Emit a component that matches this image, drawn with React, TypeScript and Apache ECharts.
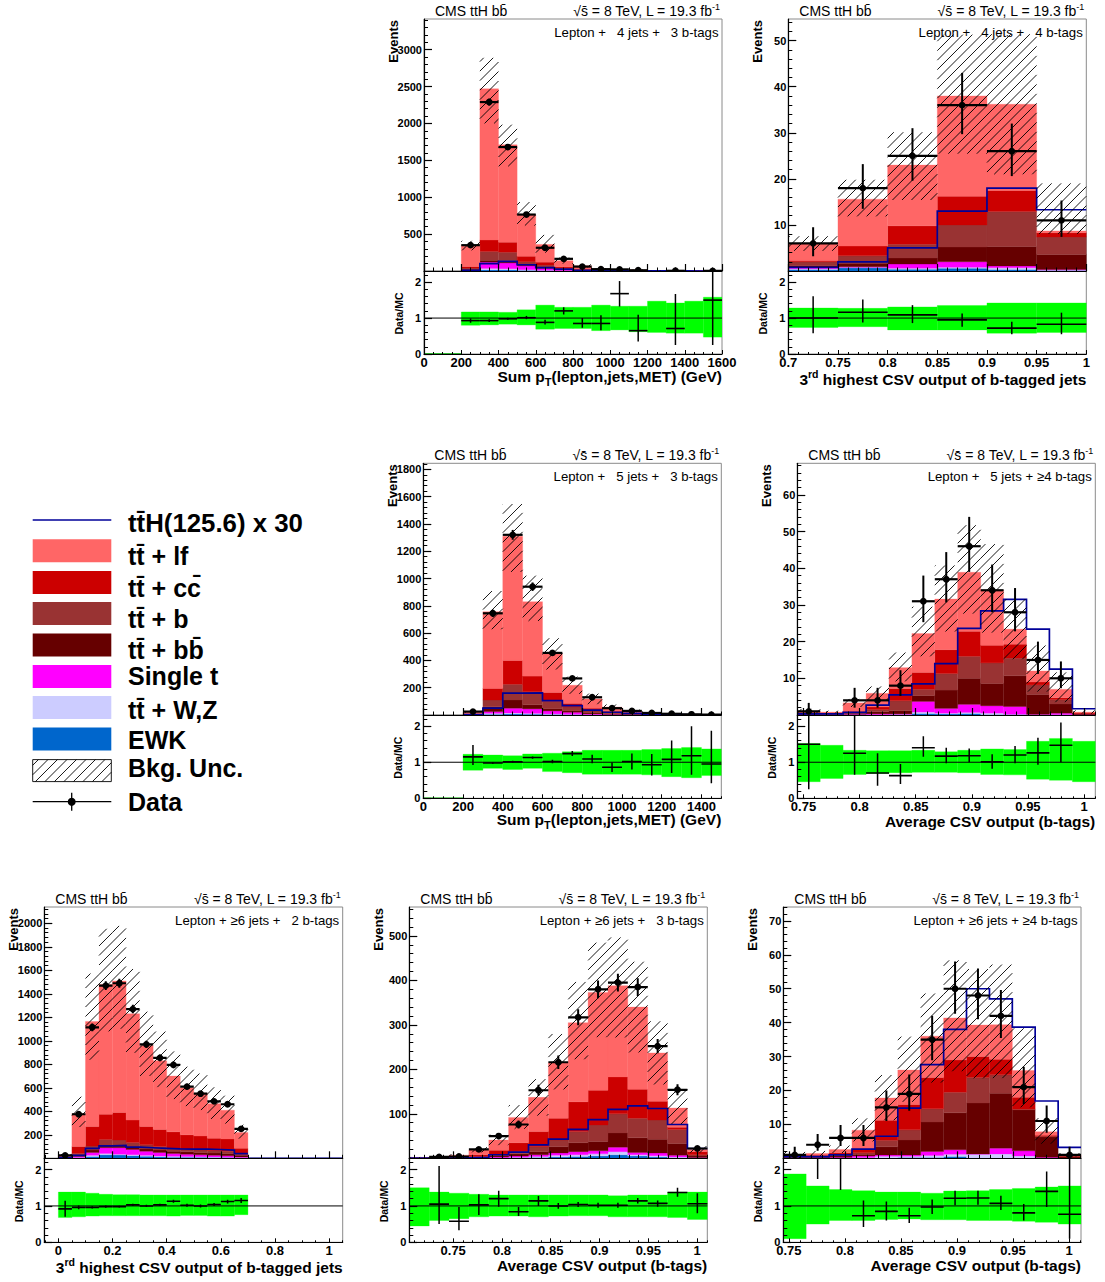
import React, { useEffect, useRef } from "react";
import * as echarts from "echarts";

// ---------- shared tick values ----------
const ratioTicks = [0, 1, 2];
const xTicksPt16 = [0, 200, 400, 600, 800, 1000, 1200, 1400, 1600];
const xTicksPt14 = [0, 200, 400, 600, 800, 1000, 1200, 1400];
const xTicksCsv3 = [0.7, 0.75, 0.8, 0.85, 0.9, 0.95, 1];
const xTicksAvg = [0.75, 0.8, 0.85, 0.9, 0.95, 1];
const xTicksLow = [0, 0.2, 0.4, 0.6, 0.8, 1];

// ---------- panel 1: 4 jets, 3 b-tags ----------
const p1Edges = [200, 300, 400, 500, 600, 700, 800, 900, 1000, 1100, 1200, 1300, 1400, 1500, 1600];
const p1Ewk = [4, 15, 15, 8, 4, 2, 1, 0.5, 0.2, 0.2, 0.1, 0.1, 0, 0];
const p1Ttv = [4, 20, 15, 10, 6, 3, 1, 0.5, 0.3, 0.2, 0.1, 0, 0.1, 0.05];
const p1St = [7, 85, 80, 52, 25, 10, 4, 2, 0.5, 0.6, 0.3, 0.2, 0.1, 0.05];
const p1Bb = [10, 25, 30, 20, 15, 10, 4, 2, 1, 1, 0.5, 0.4, 0.2, 0.1];
const p1B = [15, 120, 115, 35, 30, 10, 5, 3, 1, 2, 1, 0.3, 0.2, 0.2];
const p1Cc = [20, 155, 135, 75, 40, 20, 10, 4, 2, 2, 1, 1, 0.4, 0.2];
const p1Lf = [290, 2050, 1320, 560, 240, 85, 45, 17, 7, 9, 3, 2, 1, 0.7];
const p1Sig = [8, 100, 130, 85, 45, 25, 10, 5, 2, 2, 1, 0.5, 0.3, 0.2];
const p1Data = [350, 2290, 1680, 765, 315, 165, 60, 25, 22, 10, null, 3, null, 2];
const p1DataLo = [331, 2242, 1639, 737, 297, 152, 52, 20, 17, 7, null, 1.5, null, 0.7];
const p1DataHi = [369, 2338, 1721, 793, 333, 178, 68, 30, 27, 13, null, 5.5, null, 4.6];
const p1Ratio = [0.93, 0.93, 0.98, 1.01, 0.88, 1.2, 0.85, 0.85, 1.68, 0.65, null, 0.71, null, 1.5];
const p1RatioLo = [0.87, 0.89, 0.95, 0.97, 0.82, 1.1, 0.73, 0.66, 1.32, 0.35, null, 0.25, null, 0.25];
const p1RatioHi = [0.99, 0.97, 1.01, 1.06, 0.95, 1.3, 1, 1.08, 2.03, 1.09, null, 1.67, null, 2.4];
const p1BandHi = [1.17, 1.17, 1.16, 1.23, 1.36, 1.3, 1.3, 1.36, 1.33, 1.33, 1.47, 1.42, 1.47, 1.58];
const p1BandLo = [0.8, 0.81, 0.83, 0.81, 0.69, 0.71, 0.71, 0.65, 0.67, 0.62, 0.6, 0.58, 0.58, 0.47];

// ---------- panel 2: 4 jets, 4 b-tags ----------
const p2Edges = [0.7, 0.75, 0.8, 0.85, 0.9, 0.95, 1];
const p2Ewk = [0.3, 0.7, 0.4, 0.6, 0.3, 0.1];
const p2Ttv = [0.2, 0.1, 0.2, 0.2, 0.4, 0.1];
const p2St = [0.3, 0.1, 0.9, 1.2, 0.4, 0.1];
const p2Bb = [0.4, 0.8, 1.3, 3.2, 4.2, 3.3];
const p2B = [0.8, 1.6, 3, 4.8, 7.6, 3.8];
const p2Cc = [0.3, 2.1, 4, 6.2, 4.6, 0.9];
const p2Lf = [3.6, 10.2, 13.2, 21.8, 18.7, 0.4];
const p2Sig = [0.8, 2, 5, 13, 18, 13.3];
const p2HatchBase = [5.9, 15.6, 23, 38, 36.2, 13.4];
const p2Data = [6, 18, 25, 36, 26, 11];
const p2DataLo = [3.2, 13.5, 19.6, 29.7, 20.6, 7.4];
const p2DataHi = [9.5, 23.2, 31, 43, 32, 15.3];
const p2Ratio = [1, 1.16, 1.09, 0.95, 0.72, 0.83];
const p2RatioLo = [0.58, 0.88, 0.86, 0.76, 0.55, 0.55];
const p2RatioHi = [1.61, 1.52, 1.36, 1.13, 0.9, 1.15];
const p2BandHi = [1.28, 1.27, 1.31, 1.35, 1.42, 1.42];
const p2BandLo = [0.74, 0.76, 0.67, 0.67, 0.58, 0.6];

// ---------- panel 3: 5 jets, 3 b-tags ----------
const p3Edges = [200, 300, 400, 500, 600, 700, 800, 900, 1000, 1100, 1200, 1300, 1400, 1500];
const p3Ewk = [0.5, 5, 8, 6, 4, 2, 1, 1, 0.5, 0.2, 0.1, 0.1, 0];
const p3Ttv = [0.5, 7, 7, 6, 4, 3, 2, 1, 0.5, 0.3, 0.2, 0.1, 0.1];
const p3St = [1, 13, 35, 33, 22, 15, 5, 3, 2, 1, 0.4, 0.2, 0.2];
const p3Bb = [1, 35, 60, 30, 15, 10, 7, 4, 2, 1.5, 0.8, 0.4, 0.2];
const p3B = [2, 50, 115, 95, 55, 30, 15, 8, 4, 2, 1, 0.5, 0.4];
const p3Cc = [3, 85, 175, 115, 65, 25, 20, 11, 6, 3, 1.5, 0.7, 0.5];
const p3Lf = [14, 562, 910, 545, 285, 133, 68, 30, 15, 8, 4, 2.5, 1.6];
const p3Sig = [3, 50, 160, 162, 105, 68, 35, 20, 12, 6, 3, 1.5, 1];
const p3Data = [25, 745, 1320, 940, 455, 268, 130, 50, 30, 15, 9, 5, 3];
const p3DataLo = [20, 718, 1284, 909, 434, 252, 119, 43, 24.5, 11, 6, 2.8, 1.3];
const p3DataHi = [30, 772, 1356, 971, 476, 284, 141, 57, 35.5, 19, 12, 7.2, 4.7];
const p3Ratio = [1.15, 0.98, 1.01, 1.13, 1.02, 1.24, 1.09, 0.86, 1.02, 0.93, 1.08, 1.18, 0.95];
const p3RatioLo = [0.92, 0.95, 0.98, 1.1, 0.97, 1.17, 0.97, 0.73, 0.8, 0.63, 0.7, 0.65, 0.42];
const p3RatioHi = [1.48, 1.01, 1.04, 1.16, 1.07, 1.31, 1.21, 0.99, 1.24, 1.23, 1.6, 2, 1.87];
const p3BandHi = [1.22, 1.2, 1.18, 1.23, 1.25, 1.29, 1.33, 1.33, 1.33, 1.35, 1.38, 1.41, 1.37];
const p3BandLo = [0.78, 0.83, 0.8, 0.83, 0.74, 0.71, 0.67, 0.67, 0.67, 0.65, 0.6, 0.57, 0.63];

// ---------- panel 4: 5 jets, >=4 b-tags ----------
const p4Edges = [0.7445, 0.7649, 0.7853, 0.8058, 0.8262, 0.8466, 0.867, 0.8874, 0.9079, 0.9283, 0.9487, 0.9691, 0.9896, 1.01];
const p4Ewk = [0, 0, 0, 0, 0.1, 0.4, 0.3, 0.4, 0.1, 0.1, 0, 0, 0];
const p4Ttv = [0.05, 0, 0.1, 0.1, 0.1, 0.4, 0.2, 0.3, 0.4, 0.1, 0.1, 0.1, 0];
const p4St = [0.05, 0.1, 0.1, 0.2, 0.1, 2.9, 1.3, 2.2, 2, 2.1, 0.1, 0.4, 0.1];
const p4Bb = [0.2, 0.1, 0.2, 0.6, 0.9, 1.6, 5, 7.1, 6.1, 8.4, 5.4, 2.5, 0.2];
const p4B = [0.2, 0.1, 0.2, 0.6, 2.7, 1.7, 4.5, 6, 5.6, 4.8, 2.6, 1.2, 0.1];
const p4Cc = [0.2, 0.2, 0.4, 0.7, 3.3, 4.6, 6.5, 6.8, 4.8, 3.8, 0.8, 0.5, 0.2];
const p4Lf = [0.4, 0.3, 2.3, 3.7, 5.7, 10.6, 13.8, 16.1, 15, 4.1, 3, 2.3, 0.2];
const p4Sig = [0.3, 0.3, 0.7, 2.7, 5.5, 8.5, 14, 23.6, 28.4, 31.5, 23.4, 12.5, 1.7];
const p4Data = [1, null, 4, 4, 8, 31, 37, 46, 34, 28, 15, 10, null];
const p4DataLo = [0.2, null, 2, 2, 5.2, 25.3, 30.7, 39, 28, 22.8, 11.2, 7.3, null];
const p4DataHi = [3.3, null, 7.4, 7.4, 12.2, 38, 44.4, 54, 41, 34.6, 20, 14.6, null];
const p4Ratio = [1.5, null, 1.25, 0.7, 0.63, 1.4, 1.17, 1.18, 1.01, 1.2, 1.26, 1.47, null];
const p4RatioLo = [0.25, null, 0.65, 0.35, 0.4, 1.15, 0.97, 1, 0.82, 0.97, 0.93, 1, null];
const p4RatioHi = [2.6, null, 2.4, 1.25, 0.95, 1.72, 1.4, 1.38, 1.22, 1.45, 1.68, 2.1, null];
const p4BandHi = [1.52, 1.47, 1.33, 1.32, 1.32, 1.33, 1.29, 1.33, 1.37, 1.35, 1.58, 1.66, 1.58];
const p4BandLo = [0.46, 0.55, 0.66, 0.69, 0.71, 0.72, 0.72, 0.71, 0.66, 0.65, 0.53, 0.5, 0.46];

// ---------- panel 5: >=6 jets, 2 b-tags ----------
const p5Edges = [0, 0.05, 0.1, 0.15, 0.2, 0.25, 0.3, 0.35, 0.4, 0.45, 0.5, 0.55, 0.6, 0.65, 0.7];
const p5Ewk = [1, 3, 15, 30, 28, 22, 18, 14, 10, 10, 8, 7, 6, 3];
const p5Ttv = [0.5, 4, 10, 10, 7, 8, 7, 6, 7, 5, 5, 5, 4, 3];
const p5St = [1.5, 8, 25, 50, 55, 45, 35, 30, 23, 20, 17, 13, 12, 6];
const p5Bb = [2, 10, 20, 20, 15, 20, 20, 20, 20, 20, 20, 20, 18, 13];
const p5B = [3, 15, 35, 50, 50, 40, 35, 30, 25, 20, 20, 20, 20, 10];
const p5Cc = [4, 60, 165, 215, 235, 190, 155, 145, 140, 125, 120, 105, 105, 50];
const p5Lf = [15, 280, 895, 1105, 1120, 905, 690, 585, 475, 400, 365, 295, 245, 135];
const p5Sig = [5, 25, 85, 105, 110, 95, 90, 85, 80, 78, 78, 75, 70, 40];
const p5Data = [25, 375, 1115, 1470, 1490, 1270, 970, 855, 795, 610, 550, 485, 460, 250];
const p5DataLo = [20, 356, 1082, 1432, 1451, 1234, 939, 826, 767, 585, 527, 463, 439, 234];
const p5DataHi = [30, 394, 1148, 1508, 1529, 1306, 1001, 884, 823, 635, 573, 507, 481, 266];
const p5Ratio = [0.92, 0.96, 0.96, 0.98, 0.98, 1.03, 1, 1.03, 1.13, 1.02, 1, 1.04, 1.12, 1.15];
const p5RatioLo = [0.7, 0.91, 0.93, 0.95, 0.955, 1, 0.97, 1, 1.09, 0.98, 0.96, 1, 1.07, 1.08];
const p5RatioHi = [1.14, 1.01, 0.99, 1.01, 1.005, 1.06, 1.03, 1.06, 1.17, 1.06, 1.04, 1.08, 1.17, 1.22];
const p5BandHi = [1.38, 1.38, 1.35, 1.32, 1.31, 1.31, 1.3, 1.3, 1.3, 1.3, 1.3, 1.3, 1.3, 1.3];
const p5BandLo = [0.68, 0.7, 0.72, 0.73, 0.73, 0.73, 0.73, 0.73, 0.72, 0.74, 0.74, 0.72, 0.72, 0.76];

// ---------- panel 6: >=6 jets, 3 b-tags ----------
const p6Edges = [0.705, 0.7254, 0.7457, 0.7661, 0.7865, 0.8068, 0.8272, 0.8476, 0.8679, 0.8883, 0.9087, 0.929, 0.9494, 0.9698, 0.9901, 1.0105];
const p6Ewk = [0.05, 0.1, 0.1, 0.2, 0.5, 1, 2, 3, 4, 5, 8, 5, 3, 1, 0.5];
const p6Ttv = [0.05, 0.1, 0.2, 0.3, 1, 1.5, 2, 4, 4, 5, 7, 3, 3, 2, 0.5];
const p6St = [0.1, 0.1, 0.2, 0.5, 1.5, 2.5, 4, 5, 7, 7, 10, 5, 6, 4, 1];
const p6Bb = [0.2, 0.3, 0.5, 1, 2, 5, 7, 14, 20, 21, 32, 33, 31, 26, 3];
const p6B = [0.2, 0.3, 1, 2, 3, 5, 11, 15, 25, 37, 43, 44, 43, 32, 3];
const p6Cc = [0.4, 0.6, 1, 4, 10, 20, 34, 49, 67, 78, 83, 65, 42, 5, 7];
const p6Lf = [1, 1.5, 4, 11, 23, 57, 77, 125, 178, 220, 205, 185, 109, 43, 5];
const p6Sig = [0.5, 0.5, 1, 2, 8, 14, 30, 43, 65, 87, 110, 118, 112, 76, 22];
const p6Data = [null, 3, 4, 20, 50, 76, 153, 216, 317, 380, 395, 385, 252, 154, 22];
const p6DataLo = [null, 1.5, 2, 15.5, 43, 67, 140.5, 201, 299, 360, 375, 365, 236, 141.5, 17];
const p6DataHi = [null, 5, 6, 24.5, 57, 85, 165.5, 231, 335, 400, 415, 405, 268, 166.5, 27];
const p6Ratio = [null, 1.05, 0.58, 1.03, 1.2, 0.84, 1.14, 1, 1.04, 1.02, 1.02, 1.14, 1.07, 1.37, 1.06];
const p6RatioLo = [null, 0.5, 0.33, 0.75, 0.98, 0.72, 1, 0.92, 0.97, 0.95, 0.95, 1.07, 0.98, 1.25, 0.8];
const p6RatioHi = [null, 2.1, 0.97, 1.32, 1.42, 0.97, 1.27, 1.08, 1.11, 1.09, 1.09, 1.22, 1.15, 1.5, 1.35];
const p6BandHi = [1.5, 1.38, 1.35, 1.32, 1.3, 1.3, 1.3, 1.3, 1.3, 1.3, 1.28, 1.3, 1.3, 1.38, 1.38];
const p6BandLo = [0.45, 0.6, 0.65, 0.7, 0.72, 0.72, 0.7, 0.72, 0.73, 0.73, 0.7, 0.7, 0.7, 0.68, 0.63];

// ---------- panel 7: >=6 jets, >=4 b-tags ----------
const p7Edges = [0.745, 0.7654, 0.7859, 0.8063, 0.8268, 0.8472, 0.8676, 0.8881, 0.9085, 0.929, 0.9494, 0.9698, 0.9903, 1.0107];
const p7Ewk = [0, 0, 0, 0, 0.1, 0.2, 0.2, 0.5, 0.1, 0.1, 0, 0, 0];
const p7Ttv = [0, 0.1, 0.1, 0.2, 0.5, 0.4, 0.6, 0.7, 1.1, 1.2, 0.7, 0.1, 0];
const p7St = [0.1, 0.1, 0.2, 0.5, 0.4, 0.4, 1.2, 1.3, 0.1, 1.7, 1.5, 0.2, 0.1];
const p7Bb = [0.2, 0.2, 0.4, 0.3, 2.4, 4.4, 8.7, 10.9, 15, 16.2, 12.1, 6, 0.3];
const p7B = [0.2, 0.2, 0.4, 0.6, 1.9, 3, 3.9, 6.1, 7.5, 5.4, 0.2, 0.2, 0.2];
const p7Cc = [0.2, 0.3, 0.5, 1.3, 5.9, 7.5, 9.2, 9.5, 6.2, 4.6, 3.5, 0.3, 0.2];
const p7Lf = [0.3, 0.5, 1, 5.4, 6.6, 10.1, 12.2, 12.4, 9.3, 10.2, 7.9, 1, 0.2];
const p7Sig = [0.5, 0.5, 1, 2.7, 6.5, 14.8, 27.6, 38, 50, 47, 38.7, 16.9, 3.2];
const p7Data = [1, 4, 6, 6, 15, 19, 35, 50, 48, 42, 21, 11, 1];
const p7DataLo = [0.2, 2.2, 3.6, 3.6, 11, 14, 28.9, 42.6, 41, 35.5, 16, 7.5, 0.2];
const p7DataHi = [3.4, 7.2, 9.8, 9.8, 20, 24.7, 42, 58, 56, 49.6, 27, 15.6, 3.4];
const p7Ratio = [null, 2.9, 2.31, 0.73, 0.85, 0.73, 0.97, 1.21, 1.22, 1.07, 0.81, 1.4, 0.77];
const p7RatioLo = [null, 1.74, 1.44, 0.42, 0.6, 0.53, 0.78, 1.02, 1.03, 0.89, 0.6, 0.97, 0.1];
const p7RatioHi = [null, 4, 3.2, 1.15, 1.12, 0.95, 1.18, 1.42, 1.42, 1.28, 1.05, 1.95, 2.7];
const p7BandHi = [1.88, 1.55, 1.45, 1.42, 1.38, 1.38, 1.35, 1.41, 1.42, 1.45, 1.48, 1.52, 1.55];
const p7BandLo = [0.1, 0.5, 0.6, 0.6, 0.63, 0.64, 0.62, 0.62, 0.6, 0.6, 0.58, 0.55, 0.5];

// ---------- styles ----------
const FONT = "Liberation Sans";
const C = { lf: "#ff6666", cc: "#cc0000", b: "#993333", bb: "#660000", st: "#ff00ff", ttv: "#ccccff", ewk: "#0066cc", sig: "#000099", band: "#00ff00" };
const HATCH_STEP = 9.5;

const xTitleSum = "{n|Sum p}{sub|T}{n|(lepton,jets,MET) (GeV)}";
const xTitleCsv = "{n|3}{sup|rd}{n| highest CSV output of b-tagged jets}";
const xTitleAvg = "{n|Average CSV output (b-tags)}";

const steps = (from: number, to: number, step: number) => {
  const out: number[] = [];
  const n = Math.round((to - from) / step);
  for (let i = 0; i <= n; i++) out.push(Math.round((from + i * step) * 1e6) / 1e6);
  return out;
};

const panels: any[] = [
  {
    box: { left: 424, right: 722, top: 19, mid: 271, bottom: 354 }, xMin: 0, xMax: 1600, yMax: 3416,
    xTicks: xTicksPt16, xMinor: steps(0, 1600, 50), yTicks: [500, 1000, 1500, 2000, 2500, 3000], yMinor: steps(100, 3400, 100),
    edges: p1Edges, ewk: p1Ewk, ttv: p1Ttv, st: p1St, bb: p1Bb, b: p1B, cc: p1Cc, lf: p1Lf, sig: p1Sig,
    data: p1Data, dataLo: p1DataLo, dataHi: p1DataHi, ratio: p1Ratio, ratioLo: p1RatioLo, ratioHi: p1RatioHi, bandHi: p1BandHi, bandLo: p1BandLo,
    label: "Lepton +   4 jets +   3 b-tags", xTitle: xTitleSum, xTitleDy: 22, zeroSpan: [0, 200],
  },
  {
    box: { left: 788.3, right: 1086.3, top: 19, mid: 271, bottom: 354 }, xMin: 0.7, xMax: 1, yMax: 54.7,
    xTicks: xTicksCsv3, xMinor: steps(0.7, 1, 0.01), yTicks: [10, 20, 30, 40, 50], yMinor: steps(2, 54, 2),
    edges: p2Edges, ewk: p2Ewk, ttv: p2Ttv, st: p2St, bb: p2Bb, b: p2B, cc: p2Cc, lf: p2Lf, sig: p2Sig, hatchBase: p2HatchBase,
    data: p2Data, dataLo: p2DataLo, dataHi: p2DataHi, ratio: p2Ratio, ratioLo: p2RatioLo, ratioHi: p2RatioHi, bandHi: p2BandHi, bandLo: p2BandLo,
    label: "Lepton +   4 jets +   4 b-tags", xTitle: xTitleCsv, xTitleDy: 25,
  },
  {
    box: { left: 423.3, right: 721.3, top: 463.3, mid: 715, bottom: 798.3 }, xMin: 0, xMax: 1500, yMax: 1844,
    xTicks: xTicksPt14, xMinor: steps(0, 1500, 50), yTicks: [200, 400, 600, 800, 1000, 1200, 1400, 1600, 1800], yMinor: steps(40, 1840, 40),
    edges: p3Edges, ewk: p3Ewk, ttv: p3Ttv, st: p3St, bb: p3Bb, b: p3B, cc: p3Cc, lf: p3Lf, sig: p3Sig,
    data: p3Data, dataLo: p3DataLo, dataHi: p3DataHi, ratio: p3Ratio, ratioLo: p3RatioLo, ratioHi: p3RatioHi, bandHi: p3BandHi, bandLo: p3BandLo,
    label: "Lepton +   5 jets +   3 b-tags", xTitle: xTitleSum, xTitleDy: 21, zeroSpan: [0, 200],
  },
  {
    box: { left: 797.3, right: 1095.3, top: 463.3, mid: 715, bottom: 798.3 }, xMin: 0.7445, xMax: 1.01, yMax: 68.6,
    xTicks: xTicksAvg, xMinor: steps(0.75, 1.01, 0.01), yTicks: [10, 20, 30, 40, 50, 60], yMinor: steps(2, 68, 2),
    edges: p4Edges, ewk: p4Ewk, ttv: p4Ttv, st: p4St, bb: p4Bb, b: p4B, cc: p4Cc, lf: p4Lf, sig: p4Sig,
    data: p4Data, dataLo: p4DataLo, dataHi: p4DataHi, ratio: p4Ratio, ratioLo: p4RatioLo, ratioHi: p4RatioHi, bandHi: p4BandHi, bandLo: p4BandLo,
    label: "Lepton +   5 jets + \u22654 b-tags", xTitle: xTitleAvg, xTitleDy: 23,
  },
  {
    box: { left: 44.3, right: 342.7, top: 907, mid: 1158.3, bottom: 1242.3 }, xMin: -0.052, xMax: 1.05, yMax: 2139,
    xTicks: xTicksLow, xMinor: steps(-0.05, 1.05, 0.05), yTicks: [200, 400, 600, 800, 1000, 1200, 1400, 1600, 1800, 2000], yMinor: steps(40, 2120, 40),
    edges: p5Edges, ewk: p5Ewk, ttv: p5Ttv, st: p5St, bb: p5Bb, b: p5B, cc: p5Cc, lf: p5Lf, sig: p5Sig, sigTail: [0.7, 1.05],
    data: p5Data, dataLo: p5DataLo, dataHi: p5DataHi, ratio: p5Ratio, ratioLo: p5RatioLo, ratioHi: p5RatioHi, bandHi: p5BandHi, bandLo: p5BandLo,
    label: "Lepton + \u22656 jets +   2 b-tags", xTitle: xTitleCsv, xTitleDy: 25,
  },
  {
    box: { left: 409.3, right: 707.3, top: 907, mid: 1158.3, bottom: 1242.3 }, xMin: 0.705, xMax: 1.0105, yMax: 565,
    xTicks: xTicksAvg, xMinor: steps(0.71, 1.01, 0.01), yTicks: [100, 200, 300, 400, 500], yMinor: steps(20, 560, 20),
    edges: p6Edges, ewk: p6Ewk, ttv: p6Ttv, st: p6St, bb: p6Bb, b: p6B, cc: p6Cc, lf: p6Lf, sig: p6Sig,
    data: p6Data, dataLo: p6DataLo, dataHi: p6DataHi, ratio: p6Ratio, ratioLo: p6RatioLo, ratioHi: p6RatioHi, bandHi: p6BandHi, bandLo: p6BandLo,
    label: "Lepton + \u22656 jets +   3 b-tags", xTitle: xTitleAvg, xTitleDy: 23,
  },
  {
    box: { left: 783.3, right: 1081, top: 907, mid: 1158.3, bottom: 1242.3 }, xMin: 0.745, xMax: 1.0107, yMax: 74.1,
    xTicks: xTicksAvg, xMinor: steps(0.75, 1.01, 0.01), yTicks: [10, 20, 30, 40, 50, 60, 70], yMinor: steps(2, 74, 2),
    edges: p7Edges, ewk: p7Ewk, ttv: p7Ttv, st: p7St, bb: p7Bb, b: p7B, cc: p7Cc, lf: p7Lf, sig: p7Sig,
    data: p7Data, dataLo: p7DataLo, dataHi: p7DataHi, ratio: p7Ratio, ratioLo: p7RatioLo, ratioHi: p7RatioHi, bandHi: p7BandHi, bandLo: p7BandLo,
    label: "Lepton + \u22656 jets + \u22654 b-tags", xTitle: xTitleAvg, xTitleDy: 23,
  },
];

const legendRows = [
  { key: "lf", text: "tt\u0304 + lf" },
  { key: "cc", text: "tt\u0304 + cc\u0304" },
  { key: "b", text: "tt\u0304 + b" },
  { key: "bb", text: "tt\u0304 + bb\u0304" },
  { key: "st", text: "Single t" },
  { key: "ttv", text: "tt\u0304 + W,Z" },
  { key: "ewk", text: "EWK" },
];

// ---------- drawing helpers ----------
function hatchSegments(x0: number, yTop: number, x1: number, yBot: number) {
  const segs: any[] = [];
  const first = Math.ceil((x0 + yTop) / HATCH_STEP);
  const last = Math.floor((x1 + yBot) / HATCH_STEP);
  for (let k = first; k <= last; k++) {
    const s = k * HATCH_STEP;
    const ax = Math.max(x0, s - yBot);
    const bx = Math.min(x1, s - yTop);
    if (bx > ax) segs.push({ x1: ax, y1: s - ax, x2: bx, y2: s - bx });
  }
  return segs;
}

const rectRender = (color: string) => (_: any, api: any) => {
  const a = api.coord([api.value(0), api.value(2)]);
  const b = api.coord([api.value(1), api.value(3)]);
  return { type: "rect", shape: { x: a[0], y: b[1], width: b[0] - a[0], height: a[1] - b[1] }, style: { fill: color, stroke: color, lineWidth: 0.3 } };
};

const hatchRender = (_: any, api: any) => {
  const a = api.coord([api.value(0), api.value(2)]);
  const b = api.coord([api.value(1), api.value(3)]);
  return {
    type: "group",
    children: hatchSegments(a[0], b[1], b[0], a[1]).map((shape) => ({
      type: "line", shape, style: { stroke: "#000", lineWidth: 0.9, fill: "none" },
    })),
  };
};

const pointsRender = (withMarker: boolean) => (_: any, api: any) => {
  const c = api.coord([api.value(0), api.value(2)]);
  const l = api.coord([api.value(1), api.value(2)]);
  const r = api.coord([api.value(5), api.value(2)]);
  const lo = api.coord([api.value(0), api.value(3)]);
  const hi = api.coord([api.value(0), api.value(4)]);
  const hw = withMarker ? 2.2 : 1.6;
  const vw = withMarker ? 2 : 1.5;
  const children: any[] = [
    { type: "line", shape: { x1: l[0], y1: c[1], x2: r[0], y2: c[1] }, style: { stroke: "#000", lineWidth: hw } },
    { type: "line", shape: { x1: c[0], y1: lo[1], x2: c[0], y2: hi[1] }, style: { stroke: "#000", lineWidth: vw } },
  ];
  if (withMarker) children.push({ type: "circle", shape: { cx: c[0], cy: c[1], r: 3.4 }, style: { fill: "#000" } });
  return { type: "group", children };
};

const plainNumber = (v: number) => String(v);

function buildOption() {
  const grid: any[] = [];
  const xAxis: any[] = [];
  const yAxis: any[] = [];
  const series: any[] = [];
  const graphics: any[] = [];

  const txt = (text: string, x: number, y: number, size: number, weight: string, align: string, extra: any = {}) => ({
    type: "text", x, y, z: 50, silent: true, ...extra,
    style: {
      text, fontSize: size, fontWeight: weight, fontFamily: FONT, fill: "#000",
      align, textAlign: align, verticalAlign: "middle", textVerticalAlign: "middle", ...(extra.style || {}),
    },
  });

  panels.forEach((p, i) => {
    const { left, right, top, mid, bottom } = p.box;
    const width = right - left;
    grid.push({ left, top, width, height: mid - top, show: true, borderColor: "#8a8a8a", borderWidth: 1, backgroundColor: "transparent" });
    grid.push({ left, top: mid, width, height: bottom - mid, show: true, borderColor: "#8a8a8a", borderWidth: 1, backgroundColor: "transparent" });

    const axisBase = { type: "value", splitLine: { show: false }, z: 30, silent: true };
    const line = { show: true, onZero: false, lineStyle: { color: "#000", width: 1.2 } };
    const labelStyle = { fontFamily: FONT, fontWeight: "bold", color: "#000", formatter: plainNumber };

    // main panel x axes
    xAxis.push({ ...axisBase, gridIndex: 2 * i, position: "bottom", min: p.xMin, max: p.xMax, axisLine: line,
      axisTick: { show: true, inside: true, length: 7, customValues: p.xTicks, lineStyle: { color: "#000", width: 1.2 } }, axisLabel: { show: false } });
    xAxis.push({ ...axisBase, gridIndex: 2 * i, position: "bottom", min: p.xMin, max: p.xMax, axisLine: { show: false, onZero: false },
      axisTick: { show: true, inside: true, length: 3.5, customValues: p.xMinor, lineStyle: { color: "#000", width: 1 } }, axisLabel: { show: false } });
    // ratio panel x axes
    xAxis.push({ ...axisBase, gridIndex: 2 * i + 1, position: "bottom", min: p.xMin, max: p.xMax, axisLine: line,
      axisTick: { show: true, inside: true, length: 4, customValues: p.xTicks, lineStyle: { color: "#000", width: 1 } },
      axisLabel: { show: true, customValues: p.xTicks, fontSize: 13, margin: 2, ...labelStyle } });
    xAxis.push({ ...axisBase, gridIndex: 2 * i + 1, position: "bottom", min: p.xMin, max: p.xMax, axisLine: { show: false, onZero: false },
      axisTick: { show: true, inside: true, length: 2, customValues: p.xMinor, lineStyle: { color: "#000", width: 1 } }, axisLabel: { show: false } });

    // main panel y axes
    yAxis.push({ ...axisBase, gridIndex: 2 * i, position: "left", min: 0, max: p.yMax, axisLine: line,
      axisTick: { show: true, inside: true, length: 8, customValues: p.yTicks, lineStyle: { color: "#000", width: 1.2 } },
      axisLabel: { show: true, customValues: p.yTicks, fontSize: 11, margin: 2, ...labelStyle } });
    yAxis.push({ ...axisBase, gridIndex: 2 * i, position: "left", min: 0, max: p.yMax, axisLine: { show: false, onZero: false },
      axisTick: { show: true, inside: true, length: 4, customValues: p.yMinor, lineStyle: { color: "#000", width: 1 } }, axisLabel: { show: false } });
    // ratio y axes
    yAxis.push({ ...axisBase, gridIndex: 2 * i + 1, position: "left", min: 0, max: 2.31, axisLine: line,
      axisTick: { show: true, inside: true, length: 8, customValues: ratioTicks, lineStyle: { color: "#000", width: 1.2 } },
      axisLabel: { show: true, customValues: ratioTicks, fontSize: 11, margin: 3, ...labelStyle } });
    yAxis.push({ ...axisBase, gridIndex: 2 * i + 1, position: "left", min: 0, max: 2.31, axisLine: { show: false, onZero: false },
      axisTick: { show: true, inside: true, length: 4, customValues: steps(0, 2.2, 0.2), lineStyle: { color: "#000", width: 1 } }, axisLabel: { show: false } });

    const mainAxes = { xAxisIndex: 4 * i, yAxisIndex: 4 * i };
    const ratioAxes = { xAxisIndex: 4 * i + 2, yAxisIndex: 4 * i + 2 };
    const edges: number[] = p.edges;
    const n = edges.length - 1;

    // stacked backgrounds
    const base = new Array(n).fill(0);
    (["ewk", "ttv", "st", "bb", "b", "cc", "lf"] as const).forEach((key) => {
      const vals: number[] = p[key];
      const rows = vals.map((v, k) => {
        const row = [edges[k], edges[k + 1], base[k], base[k] + v];
        base[k] += v;
        return row;
      });
      series.push({ type: "custom", name: `${key}-${i}`, ...mainAxes, coordinateSystem: "cartesian2d", clip: true, silent: true, z: 3,
        encode: { x: [0, 1], y: [2, 3] }, data: rows, renderItem: rectRender((C as any)[key]) });
    });

    // signal outline
    const sigPts = edges.map((e, k) => [e, p.sig[Math.min(k, n - 1)]]);
    series.push({ type: "line", name: `ttH-${i}`, ...mainAxes, step: "end", data: sigPts, showSymbol: false, symbol: "none", silent: true, clip: true, z: 4,
      lineStyle: { color: C.sig, width: 1.7, join: "miter" } });
    if (p.sigTail) {
      series.push({ type: "line", name: `ttH-tail-${i}`, ...mainAxes, data: [[p.sigTail[0], 0], [p.sigTail[1], 0]], showSymbol: false, symbol: "none", silent: true, clip: false, z: 4,
        lineStyle: { color: C.sig, width: 1.5 } });
    }

    // uncertainty hatching
    const totals = p.hatchBase || base;
    series.push({ type: "custom", name: `unc-${i}`, ...mainAxes, coordinateSystem: "cartesian2d", clip: true, silent: true, z: 5,
      encode: { x: [0, 1], y: [2, 3] },
      data: totals.map((t: number, k: number) => [edges[k], edges[k + 1], t * p.bandLo[k], t * p.bandHi[k]]), renderItem: hatchRender });

    // data points
    const points = (vals: any[], lows: any[], highs: any[]) =>
      vals.map((v, k) => (v == null ? null : [(edges[k] + edges[k + 1]) / 2, edges[k], v, lows[k], highs[k], edges[k + 1]])).filter(Boolean);
    series.push({ type: "custom", name: `data-${i}`, ...mainAxes, coordinateSystem: "cartesian2d", clip: true, silent: true, z: 6,
      encode: { x: 0, y: 2 }, data: points(p.data, p.dataLo, p.dataHi), renderItem: pointsRender(true) });

    // ratio band
    series.push({ type: "custom", name: `band-${i}`, ...ratioAxes, coordinateSystem: "cartesian2d", clip: true, silent: true, z: 3,
      encode: { x: [0, 1], y: [2, 3] },
      data: p.bandHi.map((h: number, k: number) => [edges[k], edges[k + 1], p.bandLo[k], h]), renderItem: rectRender(C.band) });
    if (p.zeroSpan) {
      series.push({ type: "line", name: `band-empty-${i}`, ...ratioAxes, data: [[p.zeroSpan[0], 0], [p.zeroSpan[1], 0]], showSymbol: false, symbol: "none", silent: true, clip: false, z: 3,
        lineStyle: { color: "#00b000", width: 1.5 } });
    }
    // unit line
    series.push({ type: "line", name: `unit-${i}`, ...ratioAxes, data: [[p.xMin, 1], [p.xMax, 1]], showSymbol: false, symbol: "none", silent: true, z: 4,
      lineStyle: { color: "#000", width: 1 } });
    // ratio points
    series.push({ type: "custom", name: `ratio-${i}`, ...ratioAxes, coordinateSystem: "cartesian2d", clip: true, silent: true, z: 5,
      encode: { x: 0, y: 2 }, data: points(p.ratio, p.ratioLo, p.ratioHi), renderItem: pointsRender(false) });

    // panel texts
    graphics.push(txt("CMS ttH bb\u0304", left + 11, top - 8, 14, "normal", "left"));
    graphics.push(txt("{n|\u221As\u0304 = 8 TeV, L = 19.3 fb}{s|-1}", right - 2, top - 8, 14, "normal", "right", {
      style: { rich: {
        n: { fontSize: 14, fontFamily: FONT, fill: "#000", lineHeight: 18 },
        s: { fontSize: 9, fontFamily: FONT, fill: "#000", verticalAlign: "top", lineHeight: 18 },
      } },
    }));
    graphics.push(txt(p.label, right - 3.5, top + 13, 13.2, "normal", "right"));
    graphics.push(txt("Events", left - 31, top + 1, 13, "bold", "right", { rotation: Math.PI / 2 }));
    graphics.push(txt("Data/MC", left - 25, (mid + bottom) / 2 + 1, 10.5, "bold", "center", { rotation: Math.PI / 2 }));
    const tb = { fontFamily: FONT, fontWeight: "bold", fill: "#000" };
    graphics.push(txt(p.xTitle, right, bottom + p.xTitleDy, 15.5, "bold", "right", {
      style: { rich: {
        n: { fontSize: 15.5, lineHeight: 22, ...tb },
        sup: { fontSize: 10.5, lineHeight: 22, verticalAlign: "top", ...tb },
        sub: { fontSize: 11, lineHeight: 22, verticalAlign: "bottom", ...tb },
      } },
    }));
  });

  // ---------- legend ----------
  const lx0 = 32.7, lx1 = 111.3, ltx = 128, rowH = 23;
  const rowTops = [539.3, 571, 602, 633.6, 665, 696, 727.6];
  const rowText = [556, 588, 619, 650, 676, 710, 740];
  const LEG = 25;
  graphics.push({ type: "line", z: 50, silent: true, shape: { x1: lx0, y1: 520, x2: lx1, y2: 520 }, style: { stroke: C.sig, lineWidth: 1.7 } });
  graphics.push(txt("tt\u0304H(125.6) x 30", ltx, 523, 25.8, "bold", "left"));
  legendRows.forEach((r, k) => {
    graphics.push({ type: "rect", z: 50, silent: true, shape: { x: lx0, y: rowTops[k], width: lx1 - lx0, height: rowH }, style: { fill: (C as any)[r.key] } });
    graphics.push(txt(r.text, ltx, rowText[k], LEG, "bold", "left"));
  });
  const hTop = 759.6, hBot = 781.6;
  hatchSegments(lx0, hTop, lx1, hBot).forEach((shape) =>
    graphics.push({ type: "line", z: 50, silent: true, shape, style: { stroke: "#000", lineWidth: 0.9 } }));
  graphics.push({ type: "rect", z: 50, silent: true, shape: { x: lx0, y: hTop, width: lx1 - lx0, height: hBot - hTop }, style: { fill: "none", stroke: "#000", lineWidth: 0.9 } });
  graphics.push(txt("Bkg. Unc.", ltx, 768, LEG, "bold", "left"));
  const dY = 801.7, dX = 71.7;
  graphics.push({ type: "line", z: 50, silent: true, shape: { x1: lx0, y1: dY, x2: lx1, y2: dY }, style: { stroke: "#000", lineWidth: 1.3 } });
  graphics.push({ type: "line", z: 50, silent: true, shape: { x1: dX, y1: dY - 9, x2: dX, y2: dY + 9 }, style: { stroke: "#000", lineWidth: 1.3 } });
  graphics.push({ type: "circle", z: 50, silent: true, shape: { cx: dX, cy: dY, r: 4 }, style: { fill: "#000" } });
  graphics.push(txt("Data", ltx, 802, LEG, "bold", "left"));

  return { animation: false, backgroundColor: "#fff", grid, xAxis, yAxis, series, graphic: { elements: graphics } };
}

export default function App() {
  const ref = useRef<HTMLDivElement>(null);
  useEffect(() => {
    document.body.style.margin = "0";
    const chart = echarts.init(ref.current!, undefined, { renderer: "svg" });
    chart.setOption(buildOption() as any);
    return () => chart.dispose();
  }, []);
  return <div ref={ref} style={{ position: "absolute", left: 0, top: 0, width: 1105, height: 1282 }} />;
}
